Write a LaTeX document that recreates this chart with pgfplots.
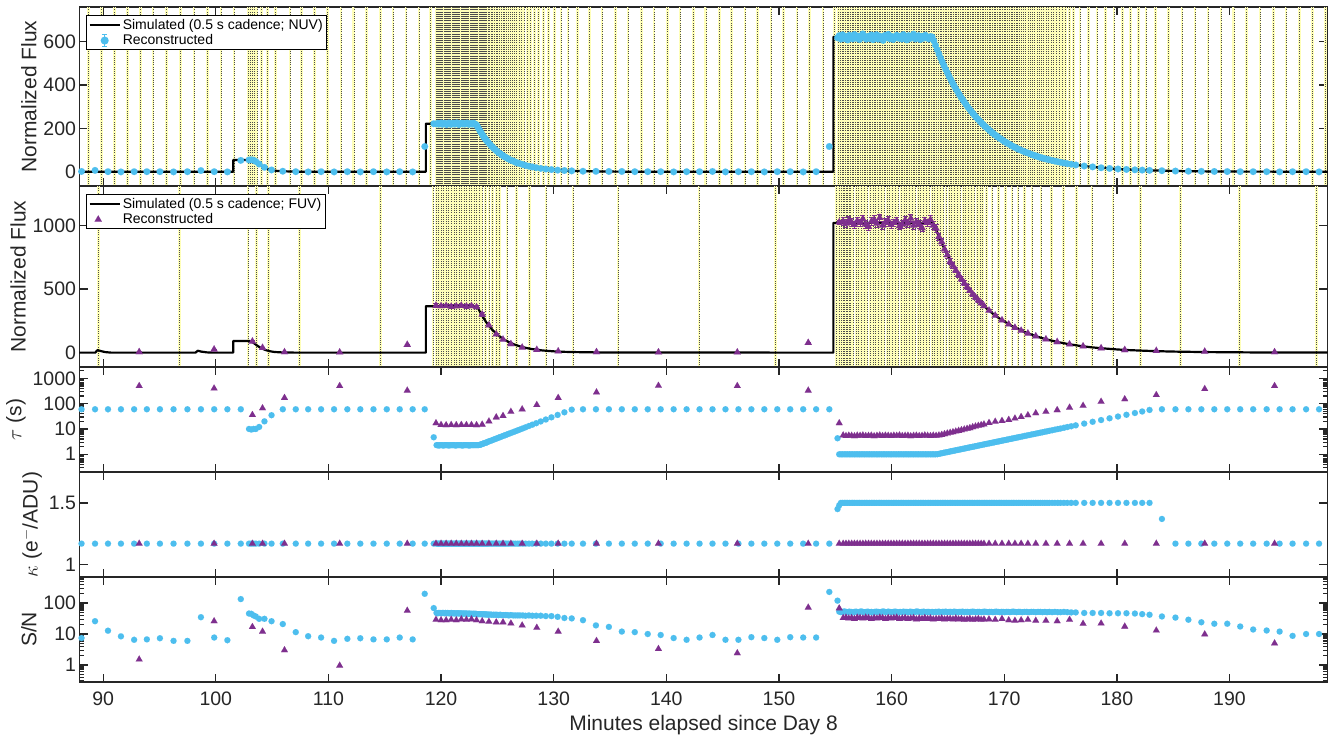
\documentclass[border=0pt]{standalone}
\usepackage{fontspec}
\setmainfont{Liberation Sans}
\usepackage{pgfplots}
\pgfplotsset{compat=1.18}
\usepackage{pgfplotstable}
\definecolor{nuvblue}{RGB}{77,190,238}
\definecolor{fuvpurple}{RGB}{126,47,142}
\definecolor{axgray}{RGB}{38,38,38}
\definecolor{stripyellow}{RGB}{255,255,185}

\pgfplotstableread{
t f tau k sn
88.08 2 60 1.17 7.4
89.28 7 60 1.17 26
90.43 1 60 1.17 12.8
91.58 0 60 1.17 8.4
92.75 1 60 1.17 6.5
93.88 1 60 1.17 6.7
95.04 1 60 1.17 7.3
96.25 0 60 1.17 6.0
97.48 1 60 1.17 6.0
98.68 6 60 1.17 35
99.86 1 60 1.17 7.7
101.03 0 60 1.17 6.3
102.22 53 60 1.17 135
102.95 55 10 1.17 46
103.15 56 9.5 1.17 45
103.35 54 10 1.17 40
103.55 48 10 1.17 37
103.85 36 12 1.17 31
104.32 21 20 1.17 31
104.95 9 35 1.17 26
105.95 3 60 1.17 21
107.1 1 60 1.17 11.5
108.2 0 60 1.17 8.5
109.35 1 60 1.17 7.7
110.5 0 60 1.17 6.0
111.68 1 60 1.17 7.0
112.83 0 60 1.17 7.3
114.0 1 60 1.17 6.7
115.18 0 60 1.17 6.7
116.33 1 60 1.17 7.7
117.48 0 60 1.17 6.7
118.55 117 60 1.17 200
119.35 222 4.7 1.17 69
119.6 221 2.3 1.17 48
119.7 224 2.3 1.17 47
119.8 220 2.2 1.17 48
119.9 223 2.3 1.17 48
120.0 225 2.3 1.17 47
120.1 219 2.3 1.17 48
120.2 222 2.2 1.17 48
120.3 224 2.3 1.17 47
120.4 221 2.3 1.17 48
120.5 218 2.3 1.17 47
120.6 222 2.3 1.17 48
120.7 225 2.2 1.17 47
120.8 221 2.3 1.17 47
120.9 219 2.3 1.17 48
121.0 223 2.3 1.17 47
121.1 224 2.3 1.17 47
121.2 220 2.3 1.17 47
121.3 222 2.2 1.17 46
121.4 226 2.3 1.17 47
121.5 221 2.3 1.17 47
121.6 218 2.3 1.17 46
121.7 222 2.3 1.17 47
121.8 224 2.3 1.17 46
121.9 221 2.2 1.17 46
122.0 223 2.3 1.17 46
122.1 220 2.3 1.17 46
122.2 222 2.3 1.17 46
122.3 225 2.3 1.17 46
122.4 221 2.3 1.17 45
122.5 219 2.2 1.17 46
122.6 223 2.3 1.17 45
122.7 222 2.3 1.17 45
122.8 220 2.3 1.17 45
122.9 224 2.3 1.17 45
123.0 221 2.3 1.17 45
123.1 218 2.3 1.17 45
123.2 212 2.3 1.17 44
123.3 203 2.3 1.17 44
123.4 194 2.35 1.17 44
123.5 185 2.4 1.17 44
123.6 177 2.5 1.17 44
123.7 169 2.6 1.17 43
123.8 161 2.7 1.17 44
123.9 154 2.8 1.17 43
124.0 147 2.9 1.17 43
124.1 141 3.0 1.17 43
124.2 135 3.2 1.17 42
124.35 126 3.35 1.17 43
124.5 118 3.55 1.17 42
124.65 110 3.77 1.17 42
124.8 103 4.0 1.17 42
124.95 96 4.24 1.17 42
125.1 89 4.5 1.17 41
125.25 84 4.78 1.17 42
125.4 78 5.07 1.17 41
125.55 73 5.38 1.17 41
125.7 68 5.7 1.17 41
125.85 64 6.05 1.17 41
126.0 59 6.42 1.17 40
126.2 54 6.95 1.17 41
126.4 50 7.5 1.17 40
126.6 45 8.15 1.17 40
126.8 41 8.8 1.17 40
127.0 38 9.5 1.17 40
127.25 34 10.5 1.17 40
127.5 30 11.6 1.17 39
127.8 26 13.1 1.17 40
128.1 23 14.7 1.17 39
128.45 19.5 16.9 1.17 39
128.85 16 19.8 1.17 39
129.3 13 23.6 1.17 38
129.8 10.6 28.8 1.17 38
130.35 8.2 35.8 1.17 36
130.95 6.3 45.5 1.17 33
131.6 4.7 58 1.17 32
132.6 3 60 1.17 28
133.75 2.5 60 1.17 19
134.9 2 60 1.17 17
136.05 2 60 1.17 12
137.2 1 60 1.17 11.5
138.35 1 60 1.17 10
139.5 1 60 1.17 9.3
140.65 0 60 1.17 7.4
141.8 1 60 1.17 6.5
142.95 1 60 1.17 7.7
144.1 2 60 1.17 9.3
145.25 0 60 1.17 6.5
146.4 1 60 1.17 6.5
147.55 1 60 1.17 7.9
148.7 0 60 1.17 7.4
149.85 1 60 1.17 6.5
151.0 1 60 1.17 7.9
152.15 0 60 1.17 7.7
153.3 1 60 1.17 7.7
154.47 117 60 1.17 230
155.2 618 4.3 1.45 120
155.35 628 1.0 1.48 53
155.50 612 1.0 1.5 51
155.65 632 1.0 1.5 52
155.80 615 1.0 1.5 54
155.95 624 1.0 1.5 52
156.10 608 1.0 1.5 51
156.25 630 1.0 1.5 53
156.40 621 1.0 1.5 52
156.55 613 1.0 1.5 50
156.70 633 1.0 1.5 52
156.85 616 1.0 1.5 53
157.00 626 1.0 1.5 51
157.15 610 1.0 1.5 52
157.30 628 1.0 1.5 54
157.45 636 1.0 1.5 52
157.60 620 1.0 1.5 51
157.75 612 1.0 1.5 52
157.90 625 1.0 1.5 53
158.05 615 1.0 1.5 51
158.20 631 1.0 1.5 52
158.35 609 1.0 1.5 50
158.50 620 1.0 1.5 52
158.65 632 1.0 1.5 53
158.80 612 1.0 1.5 52
158.95 626 1.0 1.5 51
159.10 616 1.0 1.5 52
159.25 606 1.0 1.5 54
159.40 629 1.0 1.5 52
159.55 620 1.0 1.5 51
159.70 634 1.0 1.5 53
159.85 613 1.0 1.5 52
160.00 625 1.0 1.5 51
160.15 610 1.0 1.5 52
160.30 621 1.0 1.5 53
160.45 630 1.0 1.5 52
160.60 616 1.0 1.5 50
160.75 625 1.0 1.5 52
160.90 612 1.0 1.5 51
161.05 633 1.0 1.5 53
161.20 620 1.0 1.5 52
161.35 608 1.0 1.5 52
161.50 628 1.0 1.5 51
161.65 615 1.0 1.5 53
161.80 624 1.0 1.5 52
161.95 635 1.0 1.5 51
162.10 613 1.0 1.5 52
162.25 620 1.0 1.5 54
162.40 628 1.0 1.5 52
162.55 610 1.0 1.5 51
162.70 625 1.0 1.5 52
162.85 616 1.0 1.5 53
163.00 630 1.0 1.5 51
163.15 620 1.0 1.5 52
163.30 613 1.0 1.5 52
163.45 624 1.0 1.5 50
163.60 622 1.0 1.5 52
163.75 604 1.0 1.5 51
163.90 583 1.0 1.5 52
164.05 563 1.01 1.5 52
164.2 544 1.04 1.5 53
164.35 525 1.08 1.5 51
164.5 507 1.11 1.5 52
164.65 490 1.15 1.5 52
164.8 473 1.19 1.5 53
164.95 457 1.22 1.5 51
165.1 441 1.26 1.5 52
165.25 426 1.31 1.5 52
165.4 411 1.35 1.5 51
165.55 397 1.39 1.5 53
165.7 383 1.44 1.5 52
165.85 370 1.48 1.5 51
166.0 358 1.53 1.5 52
166.15 345 1.58 1.5 52
166.3 334 1.63 1.5 53
166.45 322 1.69 1.5 51
166.6 311 1.74 1.5 52
166.75 300 1.80 1.5 52
166.9 290 1.86 1.5 51
167.05 280 1.92 1.5 52
167.2 271 1.98 1.5 53
167.35 261 2.04 1.5 52
167.5 252 2.11 1.5 51
167.65 244 2.18 1.5 52
167.8 235 2.25 1.5 52
167.95 227 2.32 1.5 51
168.1 220 2.40 1.5 52
168.25 212 2.48 1.5 53
168.4 205 2.56 1.5 52
168.55 198 2.64 1.5 51
168.7 191 2.72 1.5 52
168.85 184 2.81 1.5 52
169.0 178 2.90 1.5 51
169.15 172 3.00 1.5 52
169.3 166 3.10 1.5 53
169.45 160 3.20 1.5 52
169.6 155 3.30 1.5 51
169.75 150 3.41 1.5 52
169.9 144 3.52 1.5 52
170.05 139 3.63 1.5 51
170.2 135 3.75 1.5 52
170.35 130 3.87 1.5 52
170.5 126 4.00 1.5 51
170.65 121 4.13 1.5 52
170.8 117 4.26 1.5 53
170.95 113 4.40 1.5 52
171.1 109 4.55 1.5 51
171.25 105 4.69 1.5 52
171.4 102 4.85 1.5 52
171.6 97 5.06 1.5 51
171.8 93 5.28 1.5 52
172.0 89 5.51 1.5 52
172.2 85 5.74 1.5 51
172.4 81 6.00 1.5 52
172.6 77 6.26 1.5 52
172.8 74 6.53 1.5 51
173.0 70 6.81 1.5 52
173.2 67 7.11 1.5 52
173.4 64 7.42 1.5 51
173.6 61 7.74 1.5 52
173.8 58 8.08 1.5 51
174.0 56 8.43 1.5 52
174.25 52.5 8.90 1.5 51
174.5 49.6 9.38 1.5 52
174.75 46.8 9.90 1.5 51
175.0 44 10.4 1.5 51
175.3 41 11.1 1.5 52
175.6 38 11.9 1.5 51
175.95 35 12.8 1.5 50
176.35 32 13.9 1.5 50
177.1 27 16.3 1.5 48
177.85 23 19.2 1.5 48
178.6 19 22.5 1.5 48
179.35 16 26.4 1.5 47
180.1 13.5 31.0 1.5 47
180.85 11.3 36.3 1.5 47
181.6 9.5 42.7 1.5 46
182.25 8.2 49.0 1.5 44
182.9 7.0 56.3 1.5 42
184.0 5.5 60 1.37 37
185.2 3.9 60 1.17 34
186.35 3 60 1.17 29
187.5 2.5 60 1.17 24
188.65 2 60 1.17 21.5
189.8 1.5 60 1.17 21.5
190.95 1 60 1.17 17.5
192.1 1 60 1.17 14
193.3 1 60 1.17 13
194.45 0 60 1.17 12
195.6 1 60 1.17 8.7
196.8 1 60 1.17 10
197.95 0 60 1.17 10
}\nuv

\pgfplotstableread{
t f e tau k sn
93.2 5 4 500 1.17 1.5
99.85 25 3 400 1.17 26
103.25 88 6 36 1.17 17
104.15 38 4 66 1.17 12
106.1 4 2 170 1.17 3.0
111.0 2 2 500 1.17 0.95
117.0 62 3 330 1.17 57
119.55 370 13 17 1.17 29
120.0 366 13 14.5 1.17 28
120.45 368 13 14.2 1.17 28
120.9 362 13 14.5 1.17 29
121.35 365 13 14.3 1.17 28
121.8 369 12 14.6 1.17 30
122.25 364 13 14.4 1.17 29
122.7 367 12 14.5 1.17 30
123.15 358 13 14.3 1.17 28
123.65 300 12 15 1.17 26
124.25 215 9 20 1.17 25
124.9 145 6 29 1.17 24
125.5 103 4 33 1.17 24
126.2 68 3 48 1.17 22
127.2 40 2 60 1.17 19
128.5 22 1.5 89 1.17 16
130.4 10 1 170 1.17 12
133.8 5 1 280 1.17 6.0
139.3 3 1 510 1.17 3.3
146.3 2 1 500 1.17 2.4
152.6 77 2 330 1.17 72
155.35 1025 15 17 1.17 68
155.7 1030 30 5.6 1.17 33
155.95 1015 30 5.3 1.17 34
156.2 1040 30 5.5 1.17 32
156.45 1025 30 5.4 1.17 33
156.7 1005 30 5.2 1.17 31
156.95 1035 30 5.5 1.17 34
157.2 1020 30 5.4 1.17 33
157.45 1050 30 5.6 1.17 32
157.7 1010 30 5.3 1.17 34
157.95 990 30 5.4 1.17 33
158.2 1030 30 5.5 1.17 31
158.45 1045 30 5.2 1.17 33
158.7 1015 30 5.4 1.17 32
158.95 1060 30 5.6 1.17 34
159.2 1000 30 5.3 1.17 33
159.45 1025 30 5.5 1.17 31
159.7 1040 30 5.4 1.17 33
159.95 1005 30 5.3 1.17 32
160.2 1020 30 5.5 1.17 33
160.45 1035 30 5.4 1.17 34
160.7 995 30 5.6 1.17 31
160.95 1010 30 5.3 1.17 32
161.2 1040 30 5.4 1.17 33
161.45 1015 30 5.5 1.17 31
161.7 1055 30 5.2 1.17 32
161.95 1000 30 5.4 1.17 33
162.2 1025 30 5.5 1.17 30
162.45 1010 30 5.3 1.17 32
162.7 980 30 5.4 1.17 31
162.95 1035 30 5.6 1.17 33
163.2 1020 30 5.4 1.17 31
163.45 1045 30 5.3 1.17 32
163.7 1000 30 5.5 1.17 30
163.95 975 30 5.4 1.17 31
164.2 911 29 5.6 1.17 31
164.45 870 28 5.9 1.17 32
164.7 813 26 6.3 1.17 30
164.95 768 25 6.7 1.17 31
165.2 715 23 7.1 1.17 31
165.45 685 22 7.5 1.17 30
165.7 648 21 8.0 1.17 32
165.95 612 20 8.5 1.17 30
166.2 578 19 9.0 1.17 31
166.45 546 18 9.6 1.17 29
166.7 516 17 10.2 1.17 30
166.95 487 16 10.9 1.17 31
167.2 460 15 11.8 1.17 29
167.45 435 14 12.6 1.17 30
167.7 411 13 13.4 1.17 31
167.95 388 13 14.3 1.17 29
168.2 367 12 15.2 1.17 30
168.65 331 11 17.5 1.17 30
169.2 292 10 19.5 1.17 29
169.8 255 8 21 1.17 31
170.4 222 8 23 1.17 28
170.95 196 7 26 1.17 27
171.5 173 6 30 1.17 28
172.1 151 5 35 1.17 29
172.8 129 5 42 1.17 27
173.7 105 4 48 1.17 27
174.7 84 3 56 1.17 26
175.8 65 2.5 70 1.17 29
177.0 50 2 83 1.17 21.5
178.6 35 2 120 1.17 22
180.7 21 1.5 150 1.17 17.5
183.5 14 1.5 220 1.17 13
187.8 8 1 380 1.17 9.8
194.0 4 1 500 1.17 5.0
}\fuv

\pgfplotsset{
  panel/.style={
    scale only axis, width=1248pt,
    xmin=87.9, xmax=198.7,
    xtick={90,100,110,120,130,140,150,160,170,180,190},
    tick align=inside, xtick pos=both, ytick pos=both,
    axis line style={line width=1.5pt, draw=axgray},
    every tick/.style={line width=1.3pt, axgray},
    major tick length=8pt, minor tick length=4.5pt,
    tick label style={font=\fontsize{19.5}{22}\selectfont, text=axgray},
    label style={font=\fontsize{21}{24}\selectfont, text=axgray},
    /pgf/number format/assume math mode=true,
    /pgf/number format/1000 sep={},
    legend cell align=left,
  },
  strips/.style={
    extra x tick labels={},
    extra x tick style={grid=major, major tick length=0pt,
      major grid style={draw=stripyellow, line width=2.6pt,
        postaction={draw=black!70, line width=0.5pt, dash pattern=on 0.6pt off 1.6pt}}},
  },
  leg/.style={
    legend style={at={(0,1)}, anchor=north west, xshift=6.5pt, yshift=-8pt,
      draw=black, line width=1.2pt, fill=white,
      font=\fontsize{14}{16}\selectfont, inner xsep=2pt, inner ysep=1.5pt, row sep=0pt},
  },
  bluedots/.style={only marks, color=nuvblue, mark=*, mark size=#1,
    mark options={fill=nuvblue, draw=nuvblue, line width=0.01pt}},
  purpletri/.style={only marks, color=fuvpurple, mark=triangle*, mark size=#1,
    mark options={fill=fuvpurple, draw=fuvpurple, line width=0.01pt}},
}

\begin{document}
\begin{tikzpicture}
\useasboundingbox (0pt,0pt) rectangle (1339pt,738pt);

% ---------- Panel 1: NUV flux ----------
\begin{axis}[panel, leg, at={(79.5pt,552pt)}, anchor=south west, height=179pt,
  ymin=-65, ymax=760, ytick={0,200,400,600}, xticklabels={},
  ylabel={Normalized Flux}, strips,
  extra x ticks={88.69,89.87,90.99,92.17,93.32,94.44,95.63,96.87,98.08,99.27,100.45,101.6,
102.85,103.05,103.25,103.45,103.65,104.05,104.6,105.3,106.6,107.6,108.75,109.9,111.1,112.25,113.4,114.6,115.75,116.9,118.05,119.05,119.55,
119.65,119.75,119.85,119.95,120.05,120.15,120.25,120.35,120.45,120.55,120.65,120.75,120.85,120.95,121.05,121.15,121.25,121.35,121.45,121.55,121.65,121.75,121.85,121.95,122.05,122.15,122.25,122.35,122.45,122.55,122.65,122.75,122.85,122.95,123.05,123.15,123.25,123.35,123.45,
123.55,123.65,123.75,123.85,123.95,124.05,124.15,124.28,124.43,124.58,124.73,124.88,125.03,125.18,125.33,125.48,125.63,125.78,125.93,126.1,126.3,126.5,126.7,126.9,127.13,127.38,127.65,127.95,128.28,128.65,129.08,129.55,130.08,130.65,131.28,132.1,
133.2,134.3,135.5,136.6,137.8,138.9,140.1,141.2,142.4,143.5,144.7,145.8,147.0,148.1,149.3,150.4,151.6,152.7,153.9,154.95,155.28,
155.43,155.58,155.73,155.88,156.03,156.18,156.33,156.48,156.63,156.78,156.93,157.08,157.23,157.38,157.53,157.68,157.83,157.98,158.13,158.28,158.43,158.58,158.73,158.88,159.03,159.18,159.33,159.48,159.63,159.78,159.93,160.08,160.23,160.38,160.53,160.68,160.83,160.98,161.13,161.28,161.43,161.58,161.73,161.88,162.03,162.18,162.33,162.48,162.63,162.78,162.93,163.08,163.23,163.38,163.53,163.68,163.83,163.98,
164.13,164.28,164.43,164.58,164.73,164.88,165.03,165.18,165.33,165.48,165.63,165.78,165.93,166.08,166.23,166.38,166.53,166.68,166.83,166.98,167.13,167.28,167.43,167.58,167.73,167.88,168.03,168.18,168.33,168.48,168.63,168.78,168.93,169.08,169.23,169.38,169.53,169.68,169.83,169.98,170.13,170.28,170.43,170.58,170.73,170.88,171.03,171.18,171.33,171.5,171.7,171.9,172.1,172.3,172.5,172.7,172.9,173.1,173.3,173.5,173.7,173.9,174.13,174.38,174.63,174.88,175.15,175.45,175.78,176.15,176.73,177.48,178.23,178.98,179.73,180.48,181.23,181.93,182.58,183.45,
184.6,185.78,186.93,188.08,189.23,190.38,191.53,192.7,193.88,195.03,196.2,197.38,198.5}]
\addplot[black, line width=2.2pt, line join=round,
  legend image code/.code={\draw[black, line width=2.2pt] (0pt,0pt) -- (30pt,0pt);}]
  coordinates {(87.9,1) (101.55,1) (101.55,55) (103.2,55) (103.5,47) (103.8,38) (104.1,28) (104.4,19) (104.7,12) (105.0,8) (105.5,4) (106.5,2) (107.5,1)
  (118.65,1) (118.65,222) (123.1,222) (123.5,185) (124,147) (124.5,118) (125,94) (125.5,75) (126,59) (126.5,47) (127,38) (127.5,30) (128,24) (128.5,19) (129,15) (130,10) (131,6) (132,4) (134,2) (136,1)
  (154.83,1) (154.83,622) (163.6,622) (164,567) (164.5,505) (165,449) (165.5,400) (166,356) (166.5,317) (167,283) (167.5,251) (168,224) (168.5,199) (169,177) (169.5,158) (170,140) (171,111) (172,89) (173,70) (174,56) (175,44) (176,35) (177,28) (178,22) (179,17.4) (180,13.8) (181,10.9) (182,8.7) (184,5.5) (186,3.4) (188,2.2) (190,1.4) (195,1) (198.7,1)};
\addlegendentry{Simulated (0.5 s cadence; NUV)}
\addplot[bluedots=3.4pt,
  legend image code/.code={\draw[nuvblue, line width=0.9pt] (15pt,-6pt) -- (15pt,6pt) (12.5pt,-6pt) -- (17.5pt,-6pt) (12.5pt,6pt) -- (17.5pt,6pt); \fill[nuvblue] (15pt,0pt) circle (3.4pt);}]
  table[x=t, y=f] {\nuv};
\addlegendentry{Reconstructed}
\end{axis}

% ---------- Panel 2: FUV flux ----------
\begin{axis}[panel, leg, at={(79.5pt,371pt)}, anchor=south west, height=181pt,
  ymin=-113, ymax=1310, ytick={0,500,1000}, xticklabels={},
  ylabel={Normalized Flux}, strips,
  extra x ticks={89.57,96.8,102.87,103.6,104.7,107.45,114.6,119.3,119.54,119.78,120.0,120.23,120.45,120.68,120.9,121.13,121.35,121.58,121.8,122.03,122.25,122.48,122.7,122.93,123.15,123.4,123.65,123.95,124.25,124.57,124.9,125.2,125.85,126.7,127.85,129.3,131.7,135.7,142.9,149.7,155.1,155.35,155.55,
155.7,155.83,155.95,156.08,156.2,156.33,156.58,156.83,157.08,157.33,157.58,157.83,158.08,158.33,158.58,158.83,159.08,159.33,159.58,159.83,160.08,160.33,160.58,160.83,161.08,161.33,161.58,161.83,162.08,162.33,162.58,162.83,163.08,163.33,163.58,163.83,
164.08,164.33,164.58,164.83,165.08,165.33,165.58,165.83,166.08,166.33,166.58,166.83,167.08,167.33,167.58,167.83,168.08,168.43,168.93,169.5,170.1,170.68,171.23,171.8,172.45,173.25,174.2,175.25,176.4,177.8,179.65,182.1,185.65,190.9,197.7}]
\addplot[black, line width=2.2pt, line join=round,
  legend image code/.code={\draw[black, line width=2.2pt] (0pt,0pt) -- (30pt,0pt);}]
  coordinates {(87.9,0) (89.3,0) (89.5,20) (89.8,12) (90.2,4) (90.7,0) (98.2,0) (98.4,15) (98.7,8) (99.2,2) (99.7,0)
  (101.55,0) (101.55,92) (103.0,92) (103.3,80) (103.6,60) (103.9,42) (104.2,28) (104.5,18) (104.8,11) (105.2,5) (105.8,2) (107,0)
  (118.65,0) (118.65,365) (123.2,365) (123.5,312) (124,240) (124.5,184) (125,141) (125.5,108) (126,84) (126.5,64) (127,49) (127.5,38) (128,29) (129,17) (130,10) (131,6) (132,4) (134,1.5) (136,0.5)
  (154.83,0) (154.83,1020) (163.7,1020) (164.2,911) (164.7,813) (165.2,726) (165.7,648) (166.2,578) (166.7,516) (167.2,460) (167.7,411) (168.2,367) (168.7,327) (169.2,292) (169.7,261) (170.7,208) (171.7,166) (172.7,132) (173.7,105) (174.7,84) (175.7,67) (176.7,53) (177.7,42) (178.7,34) (179.7,27) (180.7,21) (182.7,14) (184.7,8.6) (187.7,4.4) (192,1.6) (198.7,0.4)};
\addlegendentry{Simulated (0.5 s cadence; FUV)}
\addplot[purpletri=4.2pt,
  error bars/.cd, y dir=both, y explicit,
  error bar style={line width=0.9pt, fuvpurple},
  error mark options={rotate=90, mark size=2.5pt, line width=0.9pt, fuvpurple}]
  table[x=t, y=f, y error=e] {\fuv};
\addlegendimage{legend image code/.code={\draw[fuvpurple, line width=0.9pt] (15pt,-6pt) -- (15pt,6pt) (12.5pt,-6pt) -- (17.5pt,-6pt) (12.5pt,6pt) -- (17.5pt,6pt); \fill[fuvpurple] (15pt,4.6pt) -- (11pt,-2.4pt) -- (19pt,-2.4pt) -- cycle;}}
\addlegendentry{Reconstructed}
\end{axis}

% ---------- Panel 3: tau ----------
\begin{axis}[panel, at={(79.5pt,266pt)}, anchor=south west, height=105pt,
  ymode=log, ymin=0.2, ymax=2800, ytick={1,10,100,1000},
  minor ytick={0.2,0.3,0.4,0.5,0.6,0.7,0.8,0.9,2,3,4,5,6,7,8,9,20,30,40,50,60,70,80,90,200,300,400,500,600,700,800,900,2000},
  log ticks with fixed point, xticklabels={},
  ylabel={$\tau$ (s)}]
\addplot[bluedots=3.1pt] table[x=t, y=tau] {\nuv};
\addplot[purpletri=4pt] table[x=t, y=tau] {\fuv};
\end{axis}

% ---------- Panel 4: kappa ----------
\begin{axis}[panel, at={(79.5pt,161pt)}, anchor=south west, height=105pt,
  ymin=0.9, ymax=1.75, ytick={1,1.5}, xticklabels={},
  ylabel={$\kappa$ (e$^{-}$/ADU)}]
\addplot[bluedots=3.1pt] table[x=t, y=k] {\nuv};
\addplot[purpletri=4pt] table[x=t, y=k] {\fuv};
\end{axis}

% ---------- Panel 5: S/N ----------
\begin{axis}[panel, at={(79.5pt,56pt)}, anchor=south west, height=105pt,
  ymode=log, ymin=0.28, ymax=700, ytick={1,10,100},
  minor ytick={0.3,0.4,0.5,0.6,0.7,0.8,0.9,2,3,4,5,6,7,8,9,20,30,40,50,60,70,80,90,200,300,400,500,600,700},
  log ticks with fixed point,
  xticklabel style={yshift=-6.5pt},
  ylabel={S/N}, xlabel={Minutes elapsed since Day 8},
  xlabel style={at={(axis description cs:0.5,0)}, anchor=base, yshift=-49pt}]
\addplot[bluedots=3.1pt] table[x=t, y=sn] {\nuv};
\addplot[purpletri=4pt] table[x=t, y=sn] {\fuv};
\end{axis}
\end{tikzpicture}
\end{document}
